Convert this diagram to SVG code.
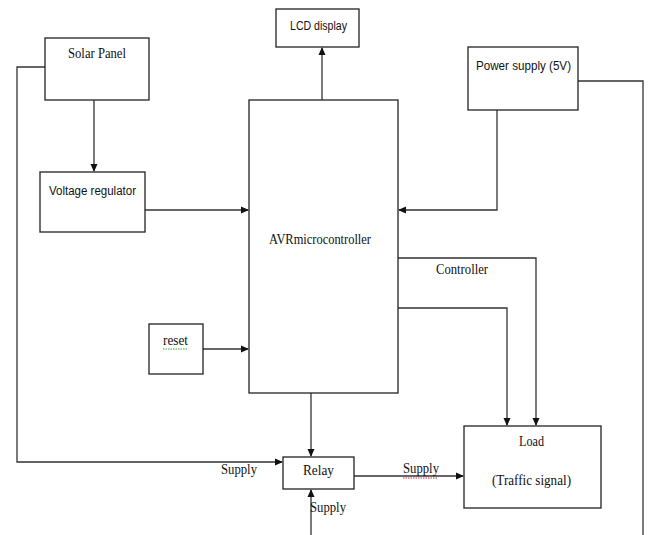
<svg xmlns="http://www.w3.org/2000/svg" width="648" height="535" viewBox="0 0 648 535">
<defs>
<marker id="ah" markerWidth="8" markerHeight="8" refX="7" refY="4" orient="auto" markerUnits="userSpaceOnUse">
<path d="M0,0.5 L8,4 L0,7.5 Z" fill="#111"/>
</marker>
<style>
.box{fill:#fff;stroke:#222;stroke-width:1.3}
.ln{fill:none;stroke:#333;stroke-width:1.3}
.ser{font-family:"Liberation Serif","Times New Roman",serif;font-size:15px;fill:#111}
.san{font-family:"Liberation Sans",Arial,sans-serif;font-size:12.5px;fill:#111}
</style>
</defs>
<rect width="648" height="535" fill="#fff"/>
<g id="connectors">
<polyline class="ln" points="45,67 17,67 17,462 282,462" marker-end="url(#ah)"/>
<line class="ln" x1="94" y1="100" x2="94" y2="171" marker-end="url(#ah)"/>
<line class="ln" x1="145" y1="210" x2="248" y2="210" marker-end="url(#ah)"/>
<line class="ln" x1="322" y1="100" x2="322" y2="48" marker-end="url(#ah)"/>
<polyline class="ln" points="497,110 497,210 399,210" marker-end="url(#ah)"/>
<polyline class="ln" points="578,81 643,81 643,535"/>
<polyline class="ln" points="398,258 536,258 536,425" marker-end="url(#ah)"/>
<polyline class="ln" points="398,308 507,308 507,425" marker-end="url(#ah)"/>
<line class="ln" x1="203" y1="349" x2="248" y2="349" marker-end="url(#ah)"/>
<line class="ln" x1="311" y1="393" x2="311" y2="456" marker-end="url(#ah)"/>
<line class="ln" x1="354" y1="476" x2="463" y2="476" marker-end="url(#ah)"/>
<line class="ln" x1="311" y1="535" x2="311" y2="490" marker-end="url(#ah)"/>
<text class="ser" x="221" y="474" textLength="36" lengthAdjust="spacingAndGlyphs">Supply</text>
<text class="ser" x="403" y="473" textLength="36" lengthAdjust="spacingAndGlyphs">Supply</text>
<line x1="403" y1="478" x2="438" y2="478" stroke="#d33" stroke-width="1" stroke-dasharray="1.5,1"/>
<text class="ser" x="310" y="512" textLength="36" lengthAdjust="spacingAndGlyphs">Supply</text>
<text class="ser" x="436" y="274" textLength="52" lengthAdjust="spacingAndGlyphs">Controller</text>
</g>
<g id="solar-panel">
<rect class="box" x="45" y="38" width="104" height="62"/>
<text class="ser" x="68" y="58" textLength="58" lengthAdjust="spacingAndGlyphs">Solar Panel</text>
</g>
<g id="voltage-regulator">
<rect class="box" x="40" y="172" width="105" height="60"/>
<text class="san" x="49" y="195" textLength="87" lengthAdjust="spacingAndGlyphs">Voltage regulator</text>
</g>
<g id="lcd-display">
<rect class="box" x="276" y="9" width="83" height="38"/>
<text class="san" x="290" y="30" textLength="57" lengthAdjust="spacingAndGlyphs">LCD display</text>
</g>
<g id="power-supply">
<rect class="box" x="468" y="47" width="110" height="63"/>
<text class="san" x="476" y="70" textLength="95" lengthAdjust="spacingAndGlyphs">Power supply (5V)</text>
</g>
<g id="avr">
<rect class="box" x="249" y="100" width="149" height="293"/>
<text class="ser" x="269" y="244" textLength="102" lengthAdjust="spacingAndGlyphs">AVRmicrocontroller</text>
</g>
<g id="reset">
<rect class="box" x="149" y="324" width="54" height="50"/>
<text class="ser" x="163" y="345" textLength="25" lengthAdjust="spacingAndGlyphs">reset</text>
<line x1="163" y1="349" x2="188" y2="349" stroke="#3a3" stroke-width="1" stroke-dasharray="1.5,1"/>
</g>
<g id="relay">
<rect class="box" x="283" y="457" width="71" height="32"/>
<text class="ser" x="303" y="475" textLength="31" lengthAdjust="spacingAndGlyphs">Relay</text>
</g>
<g id="load">
<rect class="box" x="464" y="426" width="137" height="82"/>
<text class="ser" x="519" y="446" textLength="25" lengthAdjust="spacingAndGlyphs">Load</text>
<text class="ser" x="492" y="485" textLength="79" lengthAdjust="spacingAndGlyphs">(Traffic signal)</text>
</g>
</svg>
